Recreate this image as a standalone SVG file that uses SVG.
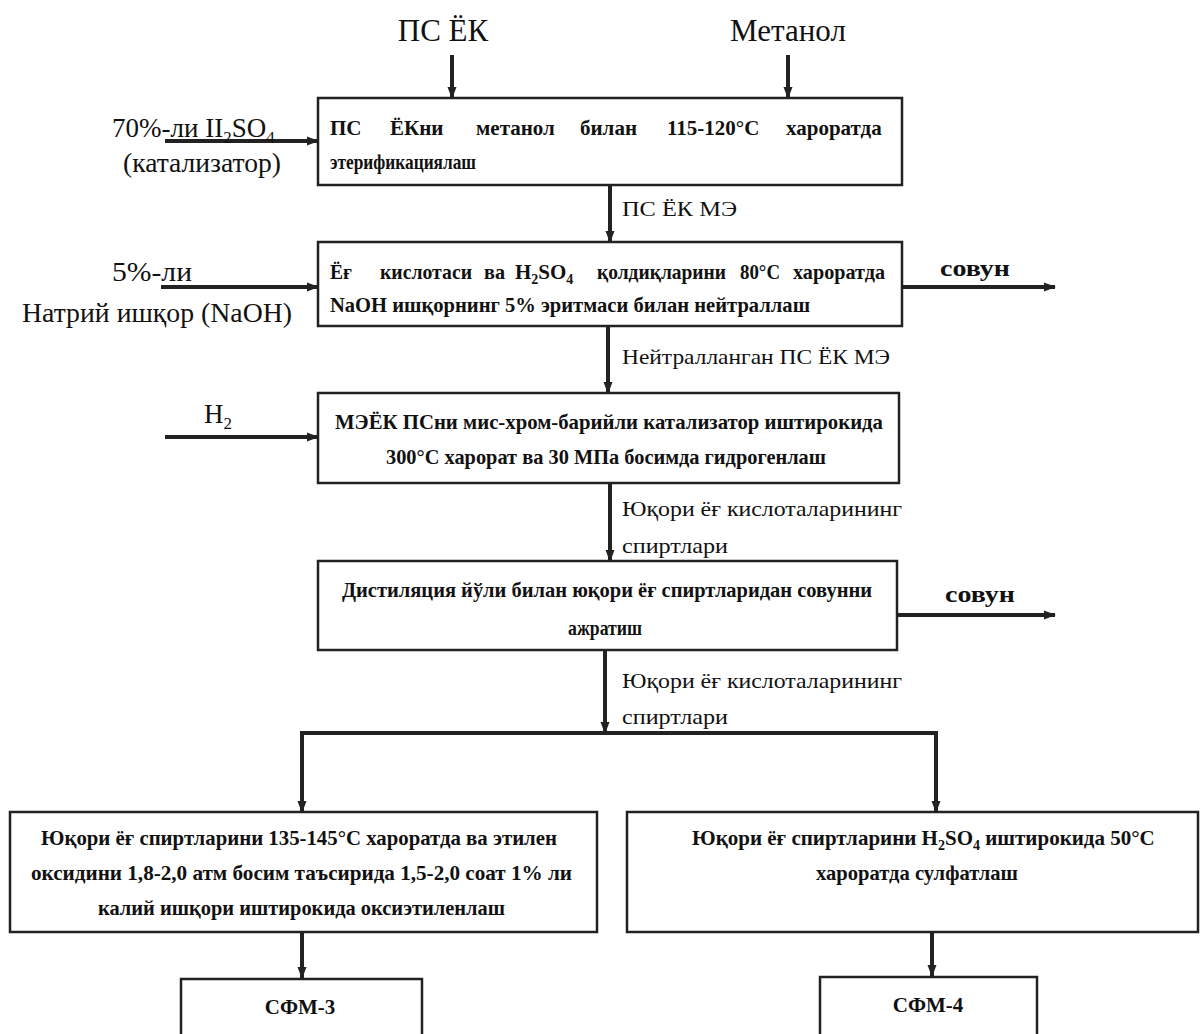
<svg xmlns="http://www.w3.org/2000/svg" width="1200" height="1034" viewBox="0 0 1200 1034">
<defs>
<marker id="ah" markerUnits="userSpaceOnUse" markerWidth="12" markerHeight="12" viewBox="0 0 12 12" refX="11" refY="6" orient="auto">
<path d="M0,1.5 L12,6 L0,10.5 Z" fill="#222"/>
</marker>
<style>
.box{fill:#fff;stroke:#222;stroke-width:2.5}
.ln{fill:none;stroke:#222;stroke-width:4}
.arr{fill:none;stroke:#222;stroke-width:4;marker-end:url(#ah)}
text{font-family:"Liberation Serif","DejaVu Serif",serif;fill:#111}
.bt{font-size:21px;font-weight:bold}
.lb{font-size:22px}
.tl{font-size:31px}
.sl{font-size:27px}
.sv{font-size:23px;font-weight:bold}
</style>
</defs>
<rect width="1200" height="1034" fill="#fff"/>

<g id="connectors">
<line class="arr" x1="452" y1="55" x2="452" y2="98"/>
<line class="arr" x1="788" y1="55" x2="788" y2="98"/>
<line class="arr" x1="165" y1="141" x2="318" y2="141"/>
<line class="arr" x1="610" y1="185" x2="610" y2="242"/>
<line class="arr" x1="161" y1="287" x2="318" y2="287"/>
<line class="arr" x1="902" y1="287" x2="1055" y2="287"/>
<line class="arr" x1="608" y1="326" x2="608" y2="393"/>
<line class="arr" x1="165" y1="437" x2="318" y2="437"/>
<line class="arr" x1="610" y1="483" x2="610" y2="561"/>
<line class="arr" x1="897" y1="615" x2="1055" y2="615"/>
<line class="arr" x1="605" y1="650" x2="605" y2="733"/>
<polyline class="ln" points="302,812 302,733 936,733 936,812"/>
<line class="arr" x1="302" y1="745" x2="302" y2="812"/>
<line class="arr" x1="936" y1="745" x2="936" y2="812"/>
<line class="arr" x1="302" y1="932" x2="302" y2="978"/>
<line class="arr" x1="932" y1="932" x2="932" y2="976"/>
</g>

<g id="labels">
<text class="tl" x="443" y="41" text-anchor="middle">ПС ЁК</text>
<text class="tl" x="788" y="41" text-anchor="middle">Метанол</text>
<text class="sl" x="112" y="137">70%-ли II<tspan font-size="17" dy="6">2</tspan><tspan dy="-6">SO</tspan><tspan font-size="17" dy="6">4</tspan></text>
<text class="sl" x="123" y="172" textLength="158" lengthAdjust="spacingAndGlyphs">(катализатор)</text>
<text class="lb" x="622" y="216" textLength="115" lengthAdjust="spacingAndGlyphs">ПС ЁК МЭ</text>
<text class="sl" x="112" y="281" textLength="80" lengthAdjust="spacingAndGlyphs">5%-ли</text>
<text class="sl" x="22" y="322" textLength="270" lengthAdjust="spacingAndGlyphs">Натрий ишқор (NaOH)</text>
<text class="sv" x="940" y="276" textLength="70" lengthAdjust="spacingAndGlyphs">совун</text>
<text class="lb" x="622" y="364" textLength="268" lengthAdjust="spacingAndGlyphs">Нейтралланган ПС ЁК МЭ</text>
<text class="sl" x="204" y="423">H<tspan font-size="17" dy="6">2</tspan></text>
<text class="lb" x="622" y="516" textLength="280" lengthAdjust="spacingAndGlyphs">Юқори ёғ кислоталарининг</text>
<text class="lb" x="622" y="553" textLength="106" lengthAdjust="spacingAndGlyphs">спиртлари</text>
<text class="sv" x="945" y="602" textLength="70" lengthAdjust="spacingAndGlyphs">совун</text>
<text class="lb" x="622" y="688" textLength="280" lengthAdjust="spacingAndGlyphs">Юқори ёғ кислоталарининг</text>
<text class="lb" x="622" y="724" textLength="106" lengthAdjust="spacingAndGlyphs">спиртлари</text>
</g>

<g id="node1">
<rect class="box" x="318" y="98" width="584" height="87"/>
<text class="bt" y="135"><tspan x="330">ПС</tspan><tspan x="390">ЁКни</tspan><tspan x="476">метанол</tspan><tspan x="580">билан</tspan><tspan x="667">115-120°С</tspan><tspan x="786">хароратда</tspan></text>
<text class="bt" x="330" y="169" textLength="146" lengthAdjust="spacingAndGlyphs">этерификациялаш</text>
</g>

<g id="node2">
<rect class="box" x="318" y="242" width="584" height="84"/>
<text class="bt" x="330" y="279" textLength="22" lengthAdjust="spacingAndGlyphs">Ёғ</text>
<text class="bt" x="380" y="279" textLength="92" lengthAdjust="spacingAndGlyphs">кислотаси</text>
<text class="bt" x="484" y="279" textLength="21" lengthAdjust="spacingAndGlyphs">ва</text>
<text class="bt" x="515" y="279">H<tspan font-size="14" dy="5">2</tspan><tspan dy="-5">SO</tspan><tspan font-size="14" dy="5">4</tspan></text>
<text class="bt" x="597" y="279" textLength="129" lengthAdjust="spacingAndGlyphs">қолдиқларини</text>
<text class="bt" x="740" y="279" textLength="40" lengthAdjust="spacingAndGlyphs">80°С</text>
<text class="bt" x="793" y="279" textLength="92" lengthAdjust="spacingAndGlyphs">хароратда</text>
<text class="bt" x="330" y="312" textLength="480" lengthAdjust="spacingAndGlyphs">NaOH ишқорнинг 5% эритмаси билан нейтраллаш</text>
</g>

<g id="node3">
<rect class="box" x="318" y="393" width="581" height="90"/>
<text class="bt" x="335" y="429" textLength="548" lengthAdjust="spacingAndGlyphs">МЭЁК ПСни мис-хром-барийли катализатор иштирокида</text>
<text class="bt" x="386" y="464" textLength="440" lengthAdjust="spacingAndGlyphs">300°С харорат ва 30 МПа босимда гидрогенлаш</text>
</g>

<g id="node4">
<rect class="box" x="318" y="561" width="579" height="89"/>
<text class="bt" x="342" y="597" textLength="530" lengthAdjust="spacingAndGlyphs">Дистиляция йўли билан юқори ёғ спиртларидан совунни</text>
<text class="bt" x="568" y="635" textLength="74" lengthAdjust="spacingAndGlyphs">ажратиш</text>
</g>

<g id="node5">
<rect class="box" x="10" y="812" width="587" height="120"/>
<text class="bt" x="41" y="845" textLength="516" lengthAdjust="spacingAndGlyphs">Юқори ёғ спиртларини 135-145°С  хароратда ва этилен</text>
<text class="bt" x="31" y="880" textLength="541" lengthAdjust="spacingAndGlyphs">оксидини 1,8-2,0 атм босим таъсирида 1,5-2,0 соат 1% ли</text>
<text class="bt" x="98" y="915" textLength="407" lengthAdjust="spacingAndGlyphs">калий ишқори иштирокида оксиэтиленлаш</text>
</g>

<g id="node6">
<rect class="box" x="627" y="812" width="571" height="120"/>
<text class="bt" y="845"><tspan x="692">Юқори ёғ спиртларини H</tspan><tspan font-size="14" dy="5">2</tspan><tspan dy="-5">SO</tspan><tspan font-size="14" dy="5">4</tspan><tspan dy="-5"> иштирокида 50°С</tspan></text>
<text class="bt" x="816" y="880" textLength="202" lengthAdjust="spacingAndGlyphs">хароратда сулфатлаш</text>
</g>

<g id="node7">
<rect class="box" x="181" y="979" width="241" height="60"/>
<text class="bt" x="300" y="1014" text-anchor="middle">СФМ-3</text>
</g>

<g id="node8">
<rect class="box" x="820" y="977" width="217" height="62"/>
<text class="bt" x="928" y="1012" text-anchor="middle">СФМ-4</text>
</g>
</svg>
